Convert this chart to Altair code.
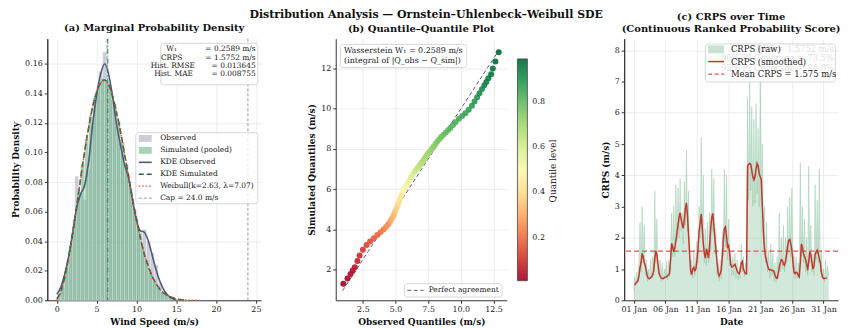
import altair as alt
import pandas as pd

FONT = "DejaVu Serif"

# ---------------- Panel (a) data ----------------
obs_bin_lo = [round(0.25 + 0.5 * i, 2) for i in range(28)]
obs_density = [0.008, 0.016, 0.028, 0.045, 0.084, 0.072, 0.068, 0.088, 0.118, 0.140,
               0.155, 0.168, 0.147, 0.135, 0.118, 0.106, 0.092, 0.085, 0.066, 0.055,
               0.046, 0.048, 0.040, 0.032, 0.024, 0.012, 0.005, 0.002]
sim_bin_lo = [round(0.5 * i, 2) for i in range(33)]
sim_density = [0.002, 0.009, 0.022, 0.037, 0.055, 0.073, 0.092, 0.109, 0.125, 0.137,
               0.145, 0.150, 0.148, 0.142, 0.133, 0.121, 0.107, 0.092, 0.076, 0.061,
               0.048, 0.036, 0.027, 0.019, 0.013, 0.009, 0.0057, 0.0035, 0.002, 0.0012,
               0.0007, 0.0004, 0.0002]
kde_obs_x = [0.5 * i for i in range(31)]
kde_obs = [0.004, 0.009, 0.018, 0.030, 0.046, 0.063, 0.072, 0.078, 0.094, 0.119,
           0.139, 0.153, 0.160, 0.153, 0.138, 0.119, 0.105, 0.092, 0.083, 0.068,
           0.054, 0.047, 0.046, 0.040, 0.030, 0.020, 0.012, 0.0065, 0.003, 0.0012, 0.0004]
kde_sim_x = [0.5 * i for i in range(33)]
kde_sim = [0.001, 0.006, 0.016, 0.030, 0.046, 0.064, 0.083, 0.101, 0.117, 0.131,
           0.141, 0.147, 0.149, 0.146, 0.138, 0.127, 0.114, 0.099, 0.084, 0.069,
           0.055, 0.042, 0.031, 0.023, 0.016, 0.011, 0.0072, 0.0046, 0.0029, 0.0018,
           0.0010, 0.0005, 0.0002]
weib_x = [0.5 * i for i in range(37)]
weib_pdf = [0.0, 0.005, 0.0153, 0.0292, 0.0458, 0.0640, 0.0828, 0.1010, 0.1176, 0.1313,
            0.1415, 0.1474, 0.1487, 0.1455, 0.1382, 0.1274, 0.1140, 0.0991, 0.0836, 0.0684,
            0.0543, 0.0418, 0.0312, 0.0226, 0.0158, 0.0107, 0.0070, 0.0045, 0.0027, 0.0016,
            0.0009, 0.0005, 0.0003, 0.0001, 0.0001, 0.0, 0.0]
obs_mean = [6.30]
sim_mean = [6.40]
cap_value = [24.0]
stats_keys = ["W\u2081", "CRPS", "Hist. RMSE", "Hist. MAE"]
stats_vals = ["= 0.2589 m/s", "= 1.5752 m/s", "= 0.013645", "= 0.008755"]
legend_a = ["Observed", "Simulated (pooled)", "KDE Observed", "KDE Simulated",
            "Weibull(k=2.63, \u03bb=7.07)", "Cap = 24.0 m/s"]
ticks_a_x = [0, 5, 10, 15, 20, 25]
ticks_a_y_even = [0, 0.04, 0.08, 0.12, 0.16]
ticks_a_y_odd = [0.02, 0.06, 0.10, 0.14]

# ---------------- Panel (b) data ----------------
qq_level = [0.01, 0.02, 0.03, 0.04, 0.05, 0.07, 0.09, 0.11, 0.13, 0.15, 0.17, 0.19, 0.21,
            0.23, 0.25, 0.27, 0.29, 0.31, 0.33, 0.35, 0.37, 0.39, 0.41, 0.43, 0.45, 0.47,
            0.49, 0.51, 0.53, 0.55, 0.57, 0.59, 0.61, 0.62, 0.63, 0.64, 0.65, 0.66, 0.67,
            0.68, 0.69, 0.70, 0.71, 0.72, 0.73, 0.74, 0.75, 0.76, 0.77, 0.78, 0.79, 0.80,
            0.81, 0.82, 0.83, 0.84, 0.85, 0.86, 0.87, 0.88, 0.89, 0.90, 0.91, 0.92, 0.93,
            0.94, 0.95, 0.96, 0.97, 0.98, 0.99]
qq_obs = [1.00, 1.32, 1.55, 1.72, 1.88, 2.08, 2.25, 2.50, 2.78, 3.05, 3.33, 3.60, 3.85,
          4.08, 4.28, 4.45, 4.60, 4.74, 4.86, 4.97, 5.07, 5.17, 5.27, 5.37, 5.46, 5.56,
          5.65, 5.77, 5.90, 6.04, 6.18, 6.33, 6.50, 6.59, 6.68, 6.78, 6.88, 6.99, 7.10,
          7.22, 7.35, 7.48, 7.62, 7.77, 7.92, 8.06, 8.20, 8.35, 8.50, 8.67, 8.85, 9.02,
          9.20, 9.40, 9.60, 9.85, 10.10, 10.35, 10.60, 10.85, 11.05, 11.25, 11.43, 11.62, 11.80,
          11.95, 12.11, 12.32, 12.45, 12.65, 12.90]
qq_sim = [1.29, 1.55, 1.78, 1.95, 2.12, 2.42, 2.70, 2.98, 3.22, 3.40, 3.56, 3.72, 3.86,
          3.99, 4.12, 4.25, 4.40, 4.56, 4.72, 4.90, 5.07, 5.23, 5.40, 5.56, 5.72, 5.87,
          6.00, 6.12, 6.27, 6.42, 6.58, 6.74, 6.90, 6.97, 7.05, 7.13, 7.22, 7.32, 7.42,
          7.53, 7.65, 7.76, 7.88, 8.00, 8.12, 8.25, 8.38, 8.49, 8.60, 8.71, 8.82, 8.93,
          9.05, 9.19, 9.33, 9.50, 9.64, 9.78, 9.95, 10.15, 10.37, 10.58, 10.78, 10.98, 11.17,
          11.33, 11.52, 11.72, 12.01, 12.35, 12.81]
diag_ends = [0.95, 12.9]
ticks_b_x = [2.5, 5.0, 7.5, 10.0, 12.5]
ticks_b_y = [2, 4, 6, 8, 10, 12]
ticks_cbar = [0.2, 0.4, 0.6, 0.8]

# ---------------- Panel (c) data ----------------
crps_raw = [
    0.30, 0.75, 0.55, 0.90, 0.60, 1.30,
    2.50, 0.90, 3.00, 1.20, 2.40, 0.80,
    1.30, 0.60, 1.00, 0.65, 1.30, 0.70,
    1.40, 0.90, 3.50, 1.20, 2.60, 1.00,
    0.80, 1.30, 0.60, 1.20, 0.65, 1.00,
    0.70, 1.25, 0.65, 1.30, 0.75, 1.80,
    2.80, 1.40, 3.00, 1.40, 3.70, 1.90,
    3.60, 2.00, 3.90, 2.20, 2.80, 1.80,
    3.80, 2.40, 4.80, 2.20, 3.50, 1.20,
    0.80, 1.30, 0.70, 1.60, 0.80, 1.50,
    1.90, 1.20, 3.00, 2.00, 5.20, 2.20,
    4.00, 1.20, 2.30, 1.10, 2.50, 1.20,
    2.80, 1.60, 4.20, 2.20, 3.90, 1.50,
    2.30, 0.80, 1.20, 0.60, 1.30, 0.70,
    2.20, 1.40, 4.20, 1.70, 4.00, 1.30,
    2.60, 1.10, 1.50, 0.80, 1.40, 0.80,
    1.50, 0.70, 1.30, 0.65, 1.10, 0.70,
    1.80, 0.90, 1.40, 0.75, 1.20, 1.00,
    6.50, 3.20, 7.00, 3.50, 6.20, 3.00,
    5.80, 3.10, 6.30, 3.40, 5.50, 3.00,
    7.00, 3.20, 5.00, 1.80, 3.00, 1.20,
    2.50, 0.90, 1.60, 0.70, 1.80, 0.80,
    1.50, 0.60, 1.20, 0.55, 1.40, 0.70,
    2.80, 0.90, 2.00, 1.00, 2.40, 0.90,
    2.00, 1.20, 3.00, 1.50, 3.30, 1.40,
    3.60, 1.00, 1.50, 0.70, 1.40, 0.70,
    1.20, 0.70, 4.40, 1.40, 3.00, 1.20,
    2.60, 0.90, 2.00, 0.80, 4.30, 1.20,
    2.40, 0.90, 1.50, 0.80, 3.70, 1.30,
    3.20, 1.20, 4.20, 0.90, 1.60, 0.70,
    1.00, 0.60, 1.30, 0.65, 1.10, 0.80,
]
crps_smooth = [
    0.48, 0.55, 0.58, 0.63, 0.78,
    1.05, 1.20, 1.50, 1.40, 1.20, 1.10,
    0.95, 0.76, 0.70, 0.69, 0.72, 0.75,
    0.80, 0.95, 1.35, 1.58, 1.45, 1.17,
    0.88, 0.78, 0.72, 0.70, 0.70, 0.72,
    0.74, 0.75, 0.78, 0.82, 0.86, 1.30,
    1.82, 1.70, 1.55, 1.68, 1.90, 2.15,
    2.40, 2.65, 2.80, 2.60, 2.42, 2.30,
    2.60, 2.95, 3.12, 2.70, 2.10, 1.50,
    0.95, 0.82, 1.00, 1.05, 0.95, 1.00,
    1.30, 1.65, 2.20, 2.45, 2.76, 2.30,
    1.80, 1.50, 1.35, 1.65, 1.50, 1.35,
    1.75, 2.30, 2.65, 2.78, 2.40, 1.95,
    1.60, 1.25, 0.90, 0.78, 0.85, 0.95,
    1.40, 1.90, 2.30, 2.35, 2.05, 1.70,
    1.75, 1.50, 1.15, 1.06, 1.08, 1.12,
    1.15, 1.05, 0.95, 0.88, 0.85, 0.95,
    1.20, 1.25, 1.00, 0.92, 0.85, 0.85,
    4.30, 4.35, 4.38, 4.35, 4.15, 3.95,
    3.85, 3.95, 4.20, 4.38, 4.30, 4.05,
    3.95, 3.85, 3.00, 2.20, 1.65, 1.40,
    1.25, 1.10, 1.00, 0.97, 0.98, 0.95,
    0.95, 0.92, 0.80, 0.72, 0.70, 0.85,
    1.05, 1.20, 1.30, 1.28, 1.15, 1.12,
    1.25, 1.45, 1.75, 1.92, 1.95, 1.80,
    1.60, 1.25, 0.90, 0.85, 0.90, 0.88,
    0.80, 0.75, 1.20, 1.80, 1.70, 1.50,
    1.40, 1.30, 1.15, 0.96, 1.25, 1.55,
    1.45, 1.20, 1.00, 1.10, 1.45, 1.55,
    1.60, 1.50, 1.35, 1.20, 0.90, 0.75,
    0.70, 0.70, 0.71, 0.72,
]
crps_mean = [1.575]
date_ticks = [1, 6, 11, 16, 21, 26, 31]
ticks_c_y_even = [0, 2, 4, 6, 8]
ticks_c_y_odd = [1, 3, 5, 7]
legend_c = ["CRPS (raw)", "CRPS (smoothed)", "Mean CRPS = 1.575 m/s"]
ghost_c = ["CRPS = 1.5752 m/s", "90% PI Coverage = 73.5%", "95% PI Coverage = 84.0%"]

# ---------------- helpers ----------------
one = pd.DataFrame({"k": [0]})


def ax(**kw):
    return alt.Axis(labelOverlap=False, labelFlush=False, labelBound=False, tickCount=40, **kw)


def box(x1, x2, y1, y2, opacity=0.8):
    return alt.Chart(one).mark_rect(fill="white", fillOpacity=opacity, stroke="#cccccc",
                                    strokeWidth=0.8, cornerRadius=3).encode(
        x=alt.value(x1), x2=alt.value(x2), y=alt.value(y1), y2=alt.value(y2))


def txt(s, x, y, align="left", size=7.5, color="#222222", opacity=1.0, angle=0):
    return alt.Chart(one).mark_text(text=s, align=align, baseline="middle", fontSize=size,
                                    font=FONT, color=color, opacity=opacity, angle=angle).encode(
        x=alt.value(x), y=alt.value(y))


def seg(x1, x2, y, color, width=1.5, dash=None, opacity=1.0):
    kw = dict(color=color, strokeWidth=width, opacity=opacity)
    if dash:
        kw["strokeDash"] = dash
    return alt.Chart(one).mark_rule(**kw).encode(x=alt.value(x1), x2=alt.value(x2), y=alt.value(y))


def patch(x1, x2, y1, y2, color, opacity):
    return alt.Chart(one).mark_rect(color=color, opacity=opacity).encode(
        x=alt.value(x1), x2=alt.value(x2), y=alt.value(y1), y2=alt.value(y2))


def spacer(w):
    return alt.Chart(one).mark_point(opacity=0).encode(
        x=alt.value(0), y=alt.value(0)).properties(width=w, height=263)


OBS_C, OBS_A = "#a9aec0", 0.6
SIM_C, SIM_A = "#5fae7c", 0.55
KDEO_C = "#4f5b75"
KDES_C = "#1e6b3b"
WEIB_C = "#e74c3c"
CAP_C = "#8a8aa3"

# ---------------- Panel (a) ----------------
sc_ax = alt.Scale(domain=[-1.2, 25.66], nice=False, zero=False)
sc_ay = alt.Scale(domain=[0, 0.177], nice=False)
xa = alt.X("x:Q", scale=sc_ax, axis=ax(values=ticks_a_x, format="d", title="Wind Speed (m/s)"))
ya = alt.Y("y:Q", scale=sc_ay, axis=ax(values=ticks_a_y_even, format=".2f", title="Probability Density",
                                       orient="left"))
ya_odd = alt.Y("y:Q", scale=sc_ay, axis=ax(values=ticks_a_y_odd, format=".2f", title=None, orient="left"))
ya_n = alt.Y("y:Q", scale=sc_ay, axis=None)

df_obs = pd.DataFrame({"x": obs_bin_lo, "x2": [v + 0.5 for v in obs_bin_lo], "y": obs_density})
df_sim = pd.DataFrame({"x": sim_bin_lo, "x2": [v + 0.5 for v in sim_bin_lo], "y": sim_density})

bars_obs = alt.Chart(df_obs).mark_bar(color=OBS_C, opacity=OBS_A, stroke="white", strokeWidth=0.4).encode(
    x=xa, x2="x2:Q", y=ya, y2=alt.datum(0))
bars_sim = alt.Chart(df_sim).mark_bar(color=SIM_C, opacity=SIM_A, stroke="white", strokeWidth=0.4).encode(
    x=xa, x2="x2:Q", y=ya_n, y2=alt.datum(0))
odd_a = alt.Chart(pd.DataFrame({"x": [0.0], "y": [0.0]})).mark_point(opacity=0).encode(x=xa, y=ya_odd)
line_kobs = alt.Chart(pd.DataFrame({"x": kde_obs_x, "y": kde_obs})).mark_line(
    color=KDEO_C, strokeWidth=1.6, interpolate="monotone").encode(x=xa, y=ya_n)
line_ksim = alt.Chart(pd.DataFrame({"x": kde_sim_x, "y": kde_sim})).mark_line(
    color=KDES_C, strokeWidth=1.6, strokeDash=[6, 3], interpolate="monotone").encode(x=xa, y=ya_n)
line_weib = alt.Chart(pd.DataFrame({"x": weib_x, "y": weib_pdf})).mark_line(
    color=WEIB_C, strokeWidth=1.3, strokeDash=[1.5, 2], interpolate="monotone").encode(x=xa, y=ya_n)
rule_om = alt.Chart(pd.DataFrame({"x": obs_mean})).mark_rule(color="#9aa0b0", strokeWidth=1, strokeDash=[4, 2]).encode(x=xa)
rule_sm = alt.Chart(pd.DataFrame({"x": sim_mean})).mark_rule(color="#2e7d4f", strokeWidth=1, strokeDash=[5, 2, 1, 2]).encode(x=xa)
rule_cap = alt.Chart(pd.DataFrame({"x": cap_value})).mark_rule(color=CAP_C, strokeWidth=0.9, strokeDash=[3, 2]).encode(x=xa)

stats_layers = [box(114, 211.7, 4.7, 46.3)]
sy = [10, 19, 27.5, 36]
stats_layers += [txt(stats_keys[0], 125, sy[0], "center"), txt(stats_keys[1], 125, sy[1], "center"),
                 txt(stats_keys[2], 148.5, sy[2], "right"), txt(stats_keys[3], 146.5, sy[3], "right")]
stats_layers += [txt(stats_vals[i], 209.5, sy[i], "right") for i in range(4)]

ly = [100.3, 112.3, 124.3, 136.3, 148.3, 160.3]
leg_a = [box(89, 211.7, 94.5, 166)]
leg_a += [patch(92, 105, ly[0] - 3.5, ly[0] + 3.5, OBS_C, OBS_A),
          patch(92, 105, ly[1] - 3.5, ly[1] + 3.5, SIM_C, SIM_A),
          seg(92, 105, ly[2], KDEO_C, 1.6),
          seg(92, 105, ly[3], KDES_C, 1.6, [5, 3]),
          seg(92, 105, ly[4], WEIB_C, 1.3, [1.5, 2]),
          seg(92, 105, ly[5], CAP_C, 0.9, [3, 2])]
leg_a += [txt(legend_a[i], 113.5, ly[i]) for i in range(6)]

panel_a = alt.layer(bars_obs, odd_a, bars_sim, line_kobs, line_ksim, line_weib, rule_om, rule_sm, rule_cap,
                    *stats_layers, *leg_a).resolve_axis(y="independent").properties(
    width=215, height=263,
    title=alt.TitleParams("(a) Marginal Probability Density", fontSize=10, fontWeight="bold", offset=5))

# ---------------- Panel (b) ----------------
xb = alt.X("x:Q", scale=alt.Scale(domain=[0.42, 13.52], nice=False, zero=False),
           axis=ax(values=ticks_b_x, format=".1f", title="Observed Quantiles (m/s)"))
yb = alt.Y("y:Q", scale=alt.Scale(domain=[0.47, 13.49], nice=False, zero=False),
           axis=ax(values=ticks_b_y, format="d", title="Simulated Quantiles (m/s)"))
diag = alt.Chart(pd.DataFrame({"x": diag_ends, "y": diag_ends})).mark_line(
    color="#5a6080", strokeWidth=1, strokeDash=[4, 2.5]).encode(x=xb, y=yb)
pts = alt.Chart(pd.DataFrame({"x": qq_obs, "y": qq_sim, "q": qq_level})).mark_circle(
    size=36, opacity=0.9).encode(
    x=xb, y=yb, order="q:Q",
    color=alt.Color("q:Q", scale=alt.Scale(scheme="redyellowgreen", domain=[0.01, 0.99]),
                    legend=alt.Legend(orient="none", legendX=182.7, legendY=20.3, direction="vertical",
                                      gradientLength=223, gradientThickness=10, title=None,
                                      labelFont=FONT, labelFontSize=8, labelColor="#222222",
                                      values=ticks_cbar, format=".1f",
                                      gradientStrokeColor="#333333", gradientStrokeWidth=0.8,
                                      labelOffset=5)))
cbar_title = txt("Quantile level", 218.5, 133, "center", 9, "#222222", angle=270)
text_b = [box(4.7, 131.7, 5.7, 29),
          txt("Wasserstein W\u2081 = 0.2589 m/s", 8.4, 12, size=8),
          txt("(integral of |Q_obs \u2212 Q_sim|)", 8.4, 22.5, size=8)]
leg_b = [box(69, 167.4, 246.3, 259.7),
         seg(72, 88.4, 253, "#5a6080", 1, [4, 2.5]),
         txt("Perfect agreement", 93.4, 253)]
panel_b = alt.layer(diag, pts, *text_b, *leg_b, cbar_title).properties(
    width=172, height=263,
    title=alt.TitleParams("(b) Quantile\u2013Quantile Plot", fontSize=10, fontWeight="bold", offset=5))

# ---------------- Panel (c) ----------------
t_raw = pd.date_range("2024-01-01 00:00", periods=len(crps_raw), freq="4h")
t_smooth = pd.date_range("2024-01-01 04:00", periods=len(crps_smooth), freq="4h")
df_raw = pd.DataFrame({"t": t_raw.strftime("%Y-%m-%dT%H:%M:%S"), "v": crps_raw})
df_smooth = pd.DataFrame({"t": t_smooth.strftime("%Y-%m-%dT%H:%M:%S"), "v": crps_smooth})

xc = alt.X("t:T", scale=alt.Scale(domain=[alt.DateTime(year=2023, month=12, date=30, hours=11, minutes=50),
                                          alt.DateTime(year=2024, month=2, date=2, hours=7)], nice=False),
           axis=ax(values=[alt.DateTime(year=2024, month=1, date=d) for d in date_ticks],
                   format="%d %b", formatType="time", title="Date", labelFontSize=8))
sc_cy = alt.Scale(domain=[0, 8.37], nice=False)
yc = alt.Y("v:Q", scale=sc_cy, axis=ax(values=ticks_c_y_even, format="d", title="CRPS (m/s)", orient="left"))
yc_odd = alt.Y("v:Q", scale=sc_cy, axis=ax(values=ticks_c_y_odd, format="d", title=None, orient="left"))
yc_n = alt.Y("v:Q", scale=sc_cy, axis=None)
GREEN_C = "#5fae7c"
area_raw = alt.Chart(df_raw).mark_area(color=GREEN_C, opacity=0.28).encode(x=xc, y=yc)
odd_c = alt.Chart(df_raw.head(1)).mark_point(opacity=0).encode(x=xc, y=yc_odd)
line_raw = alt.Chart(df_raw).mark_line(color=GREEN_C, opacity=0.4, strokeWidth=0.7).encode(x=xc, y=yc_n)
rule_mean = alt.Chart(pd.DataFrame({"v": crps_mean})).mark_rule(
    color="#d9534f", strokeWidth=1.2, strokeDash=[5, 3]).encode(y=yc_n)
line_sm = alt.Chart(df_smooth).mark_line(color="#c0392b", strokeWidth=1.5).encode(x=xc, y=yc_n)

ghost = [txt(ghost_c[0], 211, 10.3, "right", 8.5, "#444444"),
         txt(ghost_c[1], 211, 19.7, "right", 8.5, "#444444"),
         txt(ghost_c[2], 211, 29, "right", 8.5, "#444444")]
lcy = [10.7, 23, 35.7]
leg_c = [box(81.6, 212.3, 5.3, 43.5, 0.82),
         patch(84.5, 100.5, lcy[0] - 4, lcy[0] + 4, GREEN_C, 0.35),
         seg(84.5, 100.5, lcy[1], "#c0392b", 1.5),
         seg(84.5, 100.5, lcy[2], "#d9534f", 1.2, [4, 2.5])]
leg_c += [txt(legend_c[i], 107.3, lcy[i], size=8.5) for i in range(3)]
panel_c = alt.layer(area_raw, odd_c, line_raw, rule_mean, line_sm, *ghost, *leg_c).resolve_axis(
    y="independent").properties(
    width=215, height=263,
    title=alt.TitleParams(["(c) CRPS over Time", "(Continuous Ranked Probability Score)"],
                          fontSize=10, fontWeight="bold", offset=5, lineHeight=12))

chart = alt.hconcat(panel_a, spacer(75), panel_b, spacer(117.4), panel_c, spacing=0,
                    bounds="flush").resolve_scale(color="independent").properties(
    title=alt.TitleParams("Distribution Analysis \u2014 Ornstein\u2013Uhlenbeck\u2013Weibull SDE",
                          fontSize=11, fontWeight="bold", font=FONT, anchor="middle", offset=-8),
    padding={"left": 3.5, "top": 0, "right": 0, "bottom": 0},
).configure(font=FONT).configure_view(stroke=None).configure_axis(
    labelFont=FONT, labelFontSize=8, labelColor="#222222", titleFont=FONT, titleFontSize=9,
    titleFontWeight="bold", titleColor="#111111", gridColor="#e8e8e8", gridWidth=0.8,
    domainColor="#333333", domainWidth=1, tickColor="#333333", tickSize=3, labelPadding=2,
    titlePadding=4
).configure_title(font=FONT, color="#111111")

chart.save("out.html", embed_options={"renderer": "svg", "actions": False})
